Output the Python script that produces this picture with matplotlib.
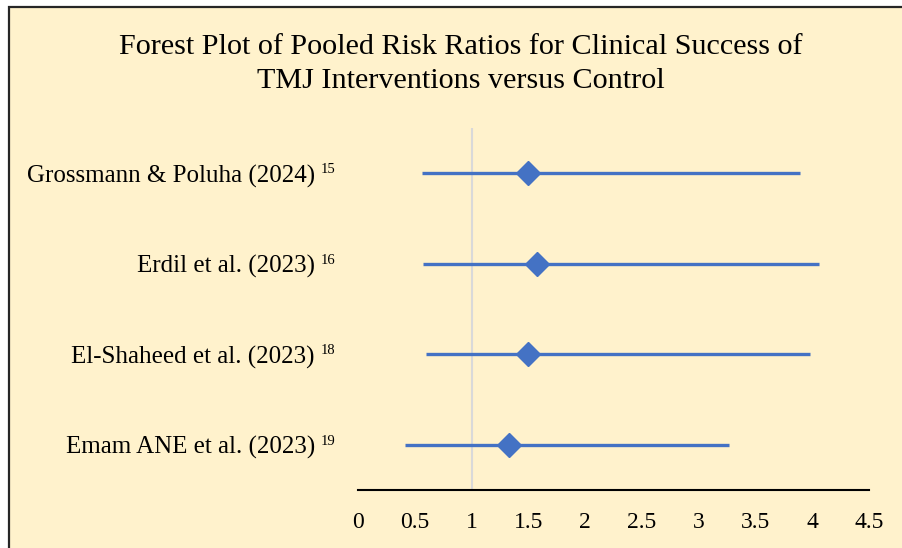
import matplotlib
matplotlib.use("Agg")
import matplotlib.pyplot as plt
from matplotlib.patches import Rectangle

studies = ["Grossmann & Poluha (2024)", "Erdil et al. (2023)",
           "El-Shaheed et al. (2023)", "Emam ANE et al. (2023)"]
refs = ["15", "16", "18", "19"]
rr = [1.50, 1.58, 1.50, 1.33]
ci_low = [0.56, 0.57, 0.60, 0.41]
ci_high = [3.89, 4.06, 3.98, 3.27]
xticks = [0, 0.5, 1, 1.5, 2, 2.5, 3, 3.5, 4, 4.5]
xticklabels = ["0", "0.5", "1", "1.5", "2", "2.5", "3", "3.5", "4", "4.5"]
title = "Forest Plot of Pooled Risk Ratios for Clinical Success of\nTMJ Interventions versus Control"

plt.rcParams['font.family'] = ['Liberation Serif', 'DejaVu Serif']

W, H = 902, 548
fig = plt.figure(figsize=(W / 100, H / 100), dpi=100)
fig.patch.set_facecolor('white')

bg = '#FFF2CC'
fig.patches.append(Rectangle((9 / W, -0.1), 1.2, 1 - 6.5 / H + 0.1, transform=fig.transFigure,
                             facecolor=bg, edgecolor='#262626', linewidth=1.6, zorder=-5))

ax = fig.add_axes([358 / W, 1 - 490 / H, (869 - 358) / W, (490 - 128) / H])
ax.set_facecolor('none')
ax.set_zorder(2)

blue = '#4472C4'
ypos = list(range(len(studies)))
ax.axvline(1, color='#D9D9D9', lw=1.5, zorder=1)
ax.hlines(ypos, ci_low, ci_high, color=blue, lw=2.4, zorder=2)
ax.plot(rr, ypos, linestyle='none', marker='D', markersize=12, color=blue, zorder=3)

ax.set_xlim(0, 4.5)
ax.set_ylim(len(studies) - 0.5, -0.5)
ax.set_xticks(xticks)
ax.set_xticklabels(xticklabels, fontsize=17)
ax.set_yticks(ypos)
ax.set_yticklabels(studies, fontsize=18)
ax.tick_params(axis='both', length=0)
ax.tick_params(axis='x', pad=16)
ax.tick_params(axis='y', pad=31)
for s in ['top', 'right', 'left']:
    ax.spines[s].set_visible(False)
ax.spines['bottom'].set_color('black')
ax.spines['bottom'].set_linewidth(1.5)

for y, r in zip(ypos, refs):
    ax.annotate(r, xy=(0, y), xycoords=('axes fraction', 'data'),
                xytext=(-23, 10), textcoords='offset pixels',
                ha='right', va='top', fontsize=10.5, annotation_clip=False)

fig.text(461 / W, 1 - 64 / H, title, ha='center', va='center', fontsize=21.7,
         linespacing=1.38, color='black', zorder=3)

fig.savefig('out.png', dpi=100, facecolor=fig.get_facecolor())
